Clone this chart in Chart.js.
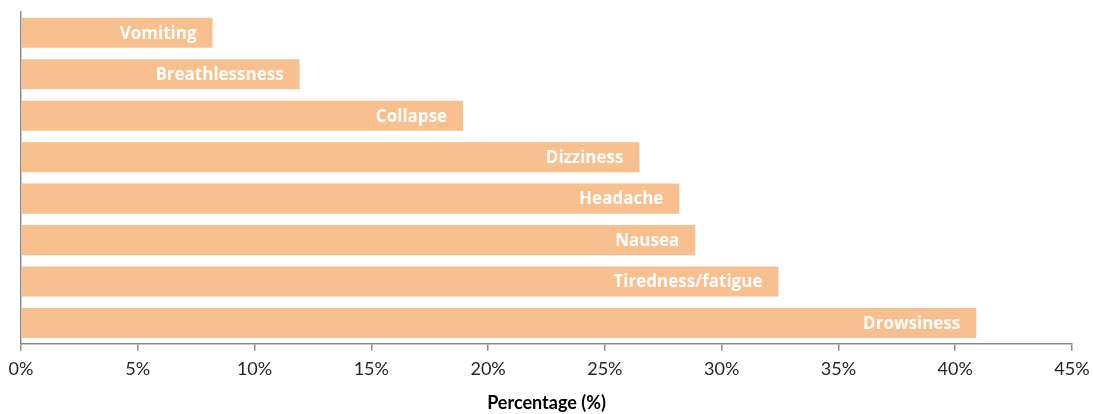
<!DOCTYPE html>
<html>
<head>
<meta charset="utf-8">
<script src="https://cdn.jsdelivr.net/npm/chart.js@4"></script>
<style>
html,body{margin:0;padding:0;background:#fff;}
#wrap{width:1093px;height:414px;position:relative;}
</style>
</head>
<body>
<div id="wrap"><canvas id="c" width="1093" height="414"></canvas></div>
<script>
const categories = ["Vomiting","Breathlessness","Collapse","Dizziness","Headache","Nausea","Tiredness/fatigue","Drowsiness"];
const values = [8.2, 11.93, 18.93, 26.48, 28.19, 28.87, 32.43, 40.9];
const tickValues = [0,5,10,15,20,25,30,35,40,45];
const axisTitle = "Percentage (%)";

const barLabels = {
  id: 'barLabels',
  afterDatasetsDraw(chart) {
    const ctx = chart.ctx;
    const meta = chart.getDatasetMeta(0);
    ctx.save();
    ctx.font = 'bold 17px "Open Sans"';
    ctx.fillStyle = '#ffffff';
    ctx.textAlign = 'right';
    ctx.textBaseline = 'middle';
    meta.data.forEach((bar, i) => {
      ctx.fillText(chart.data.labels[i], bar.x - 16, bar.y + 1);
    });
    ctx.restore();
  }
};

new Chart(document.getElementById('c'), {
  type: 'bar',
  data: {
    labels: categories,
    datasets: [{
      data: values,
      backgroundColor: '#F9C08F',
      borderWidth: 0,
      barPercentage: 0.725,
      categoryPercentage: 1
    }]
  },
  options: {
    indexAxis: 'y',
    responsive: false,
    animation: false,
    layout: { padding: { left: 0, right: 21, top: 12, bottom: 0 } },
    plugins: { legend: { display: false }, tooltip: { enabled: false } },
    scales: {
      x: {
        min: 0, max: 45,
        afterBuildTicks(scale) { scale.ticks = tickValues.map(v => ({ value: v })); },
        afterFit(scale) { scale.paddingRight = 0; scale.paddingLeft = 0; },
        ticks: {
          callback: v => v + '%',
          color: '#262626',
          font: { family: 'Lato', size: 18 },
          padding: 8,
          maxRotation: 0
        },
        grid: { drawOnChartArea: false, tickLength: 7, color: '#8c8c8c', lineWidth: 1.5 },
        border: { color: '#8c8c8c', width: 1.5 },
        title: {
          display: true, text: axisTitle, color: '#000000',
          font: { family: 'Lato', size: 18, weight: 'bold' },
          padding: { top: 4, bottom: 0 }
        }
      },
      y: {
        ticks: { display: false },
        grid: { display: false },
        border: { color: '#8c8c8c', width: 1.5 },
        afterFit(scale) { scale.width = 21; }
      }
    }
  },
  plugins: [barLabels]
});
</script>
</body>
</html>
